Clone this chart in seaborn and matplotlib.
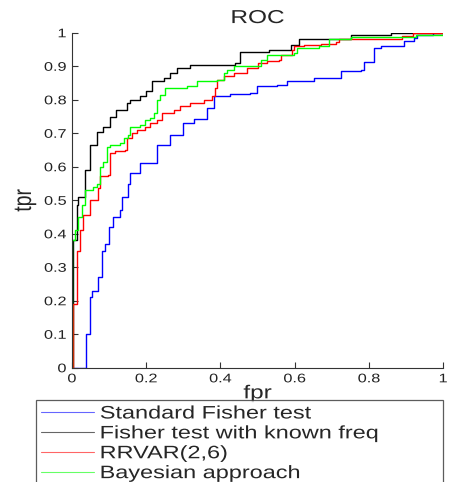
import numpy as np
import pandas as pd
import seaborn as sns
import matplotlib
matplotlib.use('Agg')
import matplotlib.pyplot as plt
from matplotlib.patheffects import AbstractPathEffect
from matplotlib.transforms import Affine2D

# ROC curve vertices (fpr, tpr)
std_fpr = [0, 0.037, 0.037, 0.049, 0.055, 0.07, 0.08, 0.09, 0.10, 0.11, 0.13, 0.135, 0.15,
           0.157, 0.184, 0.229, 0.265, 0.30, 0.328, 0.355, 0.364, 0.382, 0.427, 0.481, 0.499,
           0.553, 0.58, 0.652, 0.724, 0.778, 0.787, 0.814, 0.832, 0.895, 0.922, 0.93, 0.972, 1.0]
std_tpr = [0, 0, 0.10, 0.21, 0.23, 0.27, 0.35, 0.37, 0.42, 0.45, 0.47, 0.51, 0.55,
           0.58, 0.611, 0.666, 0.696, 0.73, 0.742, 0.742, 0.775, 0.812, 0.818, 0.82, 0.84,
           0.845, 0.857, 0.865, 0.885, 0.89, 0.914, 0.954, 0.96, 0.974, 0.984, 0.994, 1.0, 1.0]

known_fpr = [0, 0.002, 0.004, 0.013, 0.017, 0.035, 0.049, 0.067, 0.085, 0.103, 0.12, 0.148,
             0.157, 0.184, 0.2, 0.215, 0.247, 0.265, 0.283, 0.319, 0.44, 0.454, 0.53, 0.59,
             0.612, 0.751, 0.859, 1.0]
known_tpr = [0, 0.26, 0.38, 0.487, 0.51, 0.59, 0.666, 0.705, 0.72, 0.75, 0.77, 0.79,
             0.80, 0.81, 0.825, 0.855, 0.865, 0.88, 0.895, 0.905, 0.91, 0.944, 0.95, 0.964,
             0.982, 0.992, 1.0, 1.0]

rrvar_fpr = [0, 0.004, 0.013, 0.022, 0.03, 0.044, 0.049, 0.062, 0.071, 0.076, 0.098, 0.103,
             0.116, 0.143, 0.148, 0.161, 0.175, 0.197, 0.211, 0.229, 0.242, 0.274, 0.292,
             0.319, 0.355, 0.378, 0.386, 0.39, 0.409, 0.436, 0.472, 0.50, 0.526, 0.558,
             0.562, 0.594, 0.598, 0.625, 0.67, 0.711, 0.72, 0.877, 0.89, 0.918, 1.0]
rrvar_tpr = [0, 0.19, 0.35, 0.41, 0.457, 0.457, 0.50, 0.50, 0.536, 0.571, 0.576, 0.64,
             0.646, 0.65, 0.686, 0.70, 0.71, 0.72, 0.73, 0.74, 0.76, 0.77, 0.78,
             0.79, 0.80, 0.81, 0.835, 0.86, 0.87, 0.88, 0.895, 0.91, 0.915, 0.92,
             0.934, 0.95, 0.96, 0.964, 0.967, 0.971, 0.98, 0.98, 0.99, 1.0, 1.0]

bayes_fpr = [0, 0, 0.008, 0.017, 0.026, 0.035, 0.058, 0.067, 0.076, 0.085, 0.094, 0.103,
             0.13, 0.139, 0.152, 0.157, 0.184, 0.197, 0.211, 0.22, 0.229, 0.238, 0.251,
             0.31, 0.337, 0.391, 0.409, 0.418, 0.436, 0.481, 0.508, 0.526, 0.598, 0.607,
             0.666, 0.693, 0.751, 0.922, 0.927, 1.0]
bayes_tpr = [0, 0.38, 0.41, 0.45, 0.487, 0.53, 0.54, 0.55, 0.60, 0.615, 0.66, 0.665,
             0.67, 0.686, 0.695, 0.72, 0.725, 0.74, 0.745, 0.76, 0.80, 0.815, 0.835,
             0.84, 0.855, 0.86, 0.88, 0.89, 0.90, 0.90, 0.92, 0.935, 0.94, 0.954,
             0.96, 0.98, 0.987, 0.987, 0.994, 1.0]

names = ['Standard Fisher test', 'Fisher test with known freq', 'RRVAR(2,6)', 'Bayesian approach']
colors = ['#0000ff', '#000000', '#ff0000', '#00ff00']


# the original figure was stretched sideways, text included
class HStretch(AbstractPathEffect):
    def __init__(self, sx=1.3, align='center'):
        super().__init__()
        self.sx = sx
        self.align = align

    def draw_path(self, renderer, gc, tpath, affine, rgbFace=None):
        bb = tpath.get_extents(affine)
        cx = {'left': bb.x0, 'center': 0.5 * (bb.x0 + bb.x1), 'right': bb.x1}[self.align]
        st = Affine2D().translate(-cx, 0).scale(self.sx, 1).translate(cx, 0)
        renderer.draw_path(gc, tpath, affine + st, rgbFace)


frames = []
for name, fx, fy in zip(names, [std_fpr, known_fpr, rrvar_fpr, bayes_fpr],
                        [std_tpr, known_tpr, rrvar_tpr, bayes_tpr]):
    frames.append(pd.DataFrame({'fpr': fx, 'tpr': fy, 'method': name}))
data = pd.concat(frames, ignore_index=True)

sns.set_style('ticks')
plt.rcParams['font.family'] = ['Liberation Sans', 'DejaVu Sans']

fig = plt.figure(figsize=(4.67, 4.82), dpi=100)
ax = fig.add_axes([0.154, 0.237, 0.795, 0.695])

sns.lineplot(data=data, x='fpr', y='tpr', hue='method', hue_order=names,
             palette=colors, sort=False, estimator=None, drawstyle='steps-post',
             linewidth=1.0, ax=ax, legend=False)

ax.set_xlim(0, 1)
ax.set_ylim(0, 1)
ax.set_xticks(np.arange(0, 1.01, 0.2))
ax.set_xticklabels(['0', '0.2', '0.4', '0.6', '0.8', '1'])
ax.set_yticks(np.arange(0, 1.01, 0.1))
ax.set_yticklabels(['0', '0.1', '0.2', '0.3', '0.4', '0.5', '0.6', '0.7', '0.8', '0.9', '1'])
ax.tick_params(direction='in', length=4, labelsize=9, width=0.8, pad=4, colors='#333333')
ax.tick_params(labelcolor='#222222')
for s in ['top', 'right']:
    ax.spines[s].set_visible(False)
for s in ['left', 'bottom']:
    ax.spines[s].set_linewidth(0.8)
    ax.spines[s].set_color('#333333')

for t in ax.get_xticklabels():
    t.set_path_effects([HStretch(1.3, 'center')])
for t in ax.get_yticklabels():
    t.set_path_effects([HStretch(1.3, 'right')])

ax.set_title('ROC', fontsize=13.5, pad=7, path_effects=[HStretch(1.3)])
ax.set_xlabel('fpr', fontsize=13.5, labelpad=0, path_effects=[HStretch(1.3)])
ax.set_ylabel('tpr', fontsize=14, labelpad=11, path_effects=[HStretch(1.3)])

handles = [plt.Line2D([], [], color=c, linewidth=0.8, alpha=0.6) for c in colors]
leg = fig.legend(handles, names, loc='upper left', bbox_to_anchor=(0.077, 0, 0.872, 0.17),
                 mode='expand', fontsize=13, frameon=True, fancybox=False,
                 edgecolor='#333333', handlelength=2.9, handletextpad=0.35,
                 labelspacing=0.16, borderpad=0.3, borderaxespad=0)
leg.get_frame().set_linewidth(0.9)
for t in leg.get_texts():
    t.set_path_effects([HStretch(1.3, 'left')])

fig.savefig('out.png', dpi=100)
